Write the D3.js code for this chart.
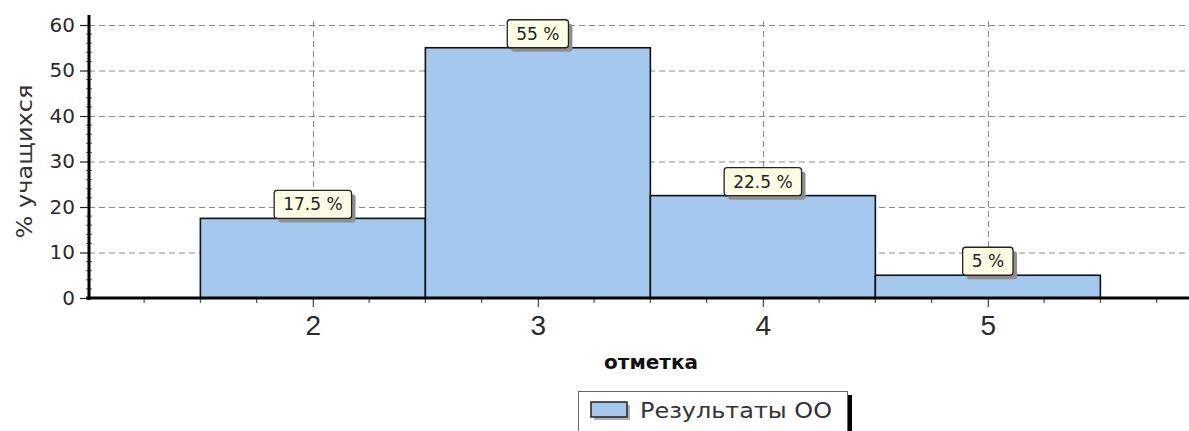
<!DOCTYPE html>
<html>
<head>
<meta charset="utf-8">
<script src="https://cdn.jsdelivr.net/npm/d3@7"></script>
<style>
  html, body { margin: 0; padding: 0; background: #fff; }
  svg { display: block; }
</style>
</head>
<body>
<svg id="chart" width="1189" height="431"></svg>
<script>
// данные
const marks = [2, 3, 4, 5];
const shares = [17.5, 55, 22.5, 5];
const shareLabels = ['17.5 %', '55 %', '22.5 %', '5 %'];
const yTicks = [0, 10, 20, 30, 40, 50, 60];
const seriesName = 'Результаты ОО';
const xTitle = 'отметка';
const yTitle = '% учащихся';

const W = 1189, H = 431;
const plot = { left: 89, top: 25, bottom: 298, right: 1189 };
const barColor = '#a5c8ee';

const svg = d3.select('#chart');

const x = d3.scaleLinear().domain([1.005, 5.894]).range([plot.left, plot.right]);
const y = d3.scaleLinear().domain([0, 60]).range([plot.bottom, plot.top]);

// сетка
const grid = svg.append('g').attr('stroke', '#8a8a8a').attr('stroke-width', 1).attr('stroke-dasharray', '6,4');
grid.selectAll('line.h').data(yTicks.filter(d => d > 0)).join('line')
    .attr('x1', plot.left).attr('x2', plot.right)
    .attr('y1', d => y(d) + 0.5).attr('y2', d => y(d) + 0.5);
grid.selectAll('line.v').data(marks).join('line')
    .attr('x1', d => Math.round(x(d)) + 0.5).attr('x2', d => Math.round(x(d)) + 0.5)
    .attr('y1', y(60) - 4).attr('y2', plot.bottom);

// столбцы
svg.append('g').selectAll('rect').data(marks).join('rect')
    .attr('x', d => x(d - 0.5))
    .attr('y', (d, i) => y(shares[i]))
    .attr('width', d => x(d + 0.5) - x(d - 0.5))
    .attr('height', (d, i) => plot.bottom - y(shares[i]))
    .attr('fill', barColor)
    .attr('stroke', '#111')
    .attr('stroke-width', 1.6);

// ось Y
const yAxis = d3.axisLeft(y).tickValues(yTicks).tickSize(9).tickPadding(5);
const gy = svg.append('g').attr('transform', `translate(${plot.left},0)`).call(yAxis);
gy.select('.domain').remove();
gy.selectAll('.tick line').attr('stroke', '#222').attr('stroke-width', 1.2);
gy.selectAll('.tick text')
    .attr('font-family', 'DejaVu Sans, sans-serif')
    .attr('font-size', 20).attr('fill', '#2a2a2a');

// мелкие деления Y
svg.append('g').selectAll('line').data(d3.range(0, 61, 2).filter(d => d % 10 !== 0)).join('line')
    .attr('x1', plot.left - 3).attr('x2', plot.left + 3)
    .attr('y1', d => y(d)).attr('y2', d => y(d))
    .attr('stroke', '#555').attr('stroke-width', 1);

// ось X
const xAxis = d3.axisBottom(x).tickValues(marks).tickFormat(d3.format('d')).tickSize(9).tickPadding(8);
const gx = svg.append('g').attr('transform', `translate(0,${plot.bottom})`).call(xAxis);
gx.select('.domain').remove();
gx.selectAll('.tick line').attr('stroke', '#444').attr('stroke-width', 1.2);
gx.selectAll('.tick text')
    .attr('font-family', 'Liberation Sans Narrow, Liberation Sans, Arial, sans-serif')
    .attr('font-size', 28).attr('fill', '#2a2a2a');

svg.append('g').selectAll('line').data(d3.range(1.25, 5.9, 0.25).filter(d => d % 1 !== 0)).join('line')
    .attr('x1', d => x(d)).attr('x2', d => x(d))
    .attr('y1', plot.bottom).attr('y2', plot.bottom + 5)
    .attr('stroke', '#555').attr('stroke-width', 1.2);

// линии осей
svg.append('line').attr('x1', plot.left).attr('x2', plot.left)
    .attr('y1', 15).attr('y2', plot.bottom + 2)
    .attr('stroke', '#000').attr('stroke-width', 3);
svg.append('line').attr('x1', plot.left - 3).attr('x2', plot.right)
    .attr('y1', plot.bottom).attr('y2', plot.bottom)
    .attr('stroke', '#000').attr('stroke-width', 3);

// подписи значений
const callouts = svg.append('g');
marks.forEach((m, i) => {
    const g = callouts.append('g');
    const t = g.append('text')
        .attr('font-family', 'DejaVu Sans, sans-serif')
        .attr('font-size', 17).attr('fill', '#222')
        .attr('text-anchor', 'middle')
        .text(shareLabels[i]);
    const tw = t.node().getComputedTextLength();
    const bw = tw + 18, bh = 28;
    const cx = x(m), by = y(shares[i]) - bh;
    g.insert('rect', 'text')
        .attr('x', cx - bw / 2 + 4).attr('y', by + 4)
        .attr('width', bw).attr('height', bh).attr('rx', 3)
        .attr('fill', '#8f8f8f');
    g.insert('rect', 'text')
        .attr('x', cx - bw / 2).attr('y', by)
        .attr('width', bw).attr('height', bh).attr('rx', 3)
        .attr('fill', '#fdfde4').attr('stroke', '#222').attr('stroke-width', 1.3);
    t.attr('x', cx).attr('y', by + bh / 2 + 6);
});

// заголовки осей
svg.append('text')
    .attr('transform', `translate(32,${(plot.top + plot.bottom) / 2}) rotate(-90)`)
    .attr('text-anchor', 'middle')
    .attr('font-family', 'DejaVu Sans, sans-serif')
    .attr('font-size', 22).attr('fill', '#333')
    .attr('textLength', 154).attr('lengthAdjust', 'spacingAndGlyphs')
    .text(yTitle);

svg.append('text')
    .attr('x', 651).attr('y', 369)
    .attr('text-anchor', 'middle')
    .attr('font-family', 'DejaVu Sans, sans-serif')
    .attr('font-weight', 'bold')
    .attr('font-size', 20).attr('fill', '#111')
    .text(xTitle);

// легенда
const lg = svg.append('g');
lg.append('rect').attr('x', 847).attr('y', 395).attr('width', 5).attr('height', 40).attr('fill', '#000');
lg.append('rect').attr('x', 578.5).attr('y', 391.5).attr('width', 269).attr('height', 50)
    .attr('fill', '#fff').attr('stroke', '#666').attr('stroke-width', 1);
lg.append('rect').attr('x', 594).attr('y', 405).attr('width', 36).attr('height', 15).attr('fill', '#b0b0b0');
lg.append('rect').attr('x', 591).attr('y', 402).attr('width', 36).attr('height', 15)
    .attr('fill', barColor).attr('stroke', '#222').attr('stroke-width', 1.5);
lg.append('text')
    .attr('x', 640).attr('y', 418)
    .attr('font-family', 'DejaVu Sans, sans-serif')
    .attr('font-size', 21).attr('fill', '#333')
    .attr('textLength', 192).attr('lengthAdjust', 'spacingAndGlyphs')
    .text(seriesName);
</script>
</body>
</html>
